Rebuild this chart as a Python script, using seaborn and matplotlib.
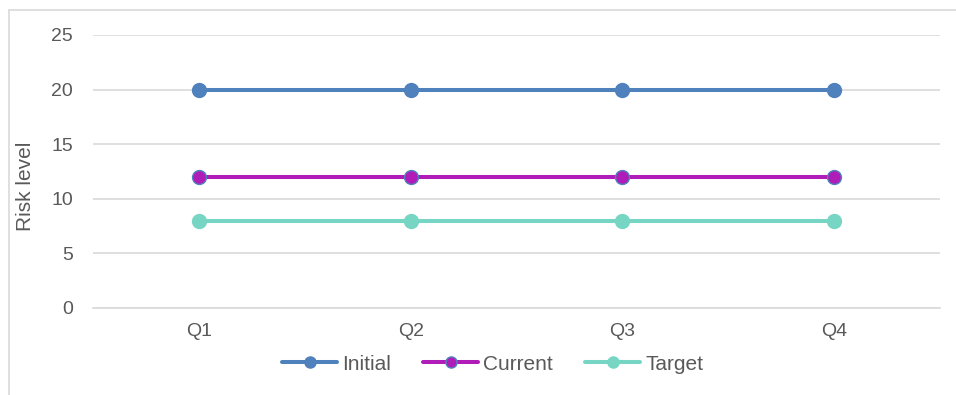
import matplotlib
matplotlib.use("Agg")
import matplotlib.pyplot as plt
from matplotlib.lines import Line2D
import pandas as pd
import seaborn as sns

quarters = ["Q1", "Q2", "Q3", "Q4"]
initial = [20, 20, 20, 20]
current = [12, 12, 12, 12]
target = [8, 8, 8, 8]
series_names = ["Initial", "Current", "Target"]
y_ticks = [0, 5, 10, 15, 20, 25]

sns.set_theme(style="white")
plt.rcParams["font.family"] = ["Liberation Sans", "DejaVu Sans"]

text_color = "#595959"
grid_color = "#d9d9d9"

styles = {
    "Initial": dict(color="#4f81bd", mec="#4f81bd"),
    "Current": dict(color="#b01cb8", mec="#4f81bd"),
    "Target": dict(color="#76d6c3", mec="#76d6c3"),
}

df = pd.DataFrame({
    "quarter": quarters * 3,
    "series": sum([[n] * len(quarters) for n in series_names], []),
    "risk": initial + current + target,
})
df["x"] = df["quarter"].map({q: i for i, q in enumerate(quarters)})

fig = plt.figure(figsize=(9.56, 3.95), dpi=100)
ax = fig.add_axes([0.0973, 0.2203, 0.886, 0.6911])

for name in series_names:
    sub = df[df["series"] == name]
    st = styles[name]
    sns.lineplot(data=sub, x="x", y="risk", ax=ax, color=st["color"],
                 linewidth=2.9, marker="o", markersize=10,
                 markeredgecolor=st["mec"], markeredgewidth=1.0,
                 markerfacecolor=st["color"], label=name, zorder=3)

ax.set_xlim(-0.5, len(quarters) - 0.5)
ax.set_ylim(0, 25)
ax.set_xticks(range(len(quarters)))
ax.set_xticklabels(quarters)
ax.set_yticks(y_ticks)
ax.set_xlabel("")
ax.set_ylabel("")
ax.tick_params(axis="both", labelsize=14, colors=text_color, length=0)
ax.tick_params(axis="y", pad=14.4)
ax.tick_params(axis="x", pad=11)

# axis title, centred a little below the plot middle
fig.text(26 / 956, 1 - 186.5 / 395, "Risk level", rotation=90, fontsize=15,
         color=text_color, ha="center", va="center")

ax.grid(axis="y", color=grid_color, linewidth=1.2)
ax.set_axisbelow(True)
for s in ["top", "right", "left"]:
    ax.spines[s].set_visible(False)
ax.spines["bottom"].set_color(grid_color)
ax.spines["bottom"].set_linewidth(1.2)

ax.legend_.remove()
handles = []
for name in series_names:
    st = styles[name]
    handles.append(Line2D([], [], color=st["color"], linewidth=2.9, marker="o",
                          markersize=8, markerfacecolor=st["color"],
                          markeredgecolor=st["mec"], markeredgewidth=1.0))
fig.legend(handles, series_names, loc="center", bbox_to_anchor=(0.5155, 1 - 364 / 395),
           ncol=3, frameon=False, fontsize=15, handlelength=2.64,
           handletextpad=0.24, columnspacing=1.54, labelcolor=text_color,
           borderpad=0.2)

# chart frame: top and left edges
fig.add_artist(Line2D([9 / 956, 9 / 956], [0, 1 - 10 / 395], color=grid_color,
                      linewidth=1.2, transform=fig.transFigure))
fig.add_artist(Line2D([9 / 956, 1], [1 - 10 / 395, 1 - 10 / 395], color=grid_color,
                      linewidth=1.2, transform=fig.transFigure))

fig.savefig("out.png", dpi=100, facecolor="white")
